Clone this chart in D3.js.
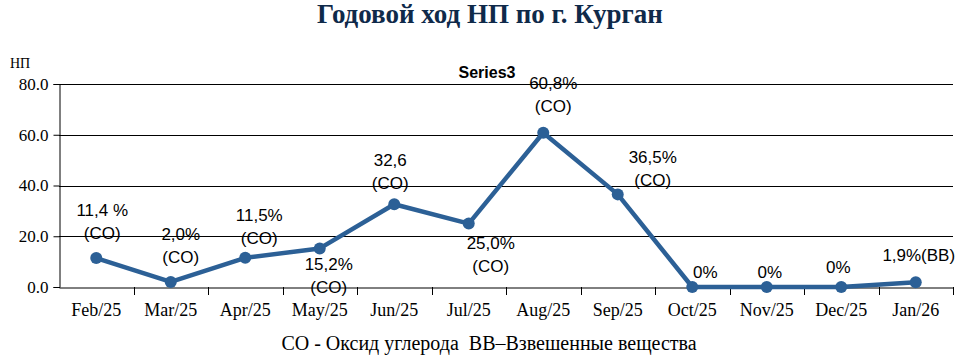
<!DOCTYPE html>
<html><head><meta charset="utf-8">
<script src="https://cdn.jsdelivr.net/npm/d3@7"></script>
<style>body{margin:0;background:#fff}svg{display:block}</style>
</head><body>
<script>
const categories = ["Feb/25","Mar/25","Apr/25","May/25","Jun/25","Jul/25","Aug/25","Sep/25","Oct/25","Nov/25","Dec/25","Jan/26"];
const values = [11.4, 2.0, 11.5, 15.2, 32.6, 25.0, 60.8, 36.5, 0, 0, 0, 1.9];
const labelLine1 = ["11,4 %","2,0%","11,5%","15,2%","32,6","25,0%","60,8%","36,5%","0%","0%","0%","1,9%(BB)"];
const labelLine2 = ["(CO)","(CO)","(CO)","(CO)","(CO)","(CO)","(CO)","(CO)","","","",""];
const yTicks = [0, 20, 40, 60, 80];
const title = "Годовой ход НП по г. Курган";
const yLabel = "НП";
const seriesName = "Series3";
const footnote = "CO - Оксид углерода\u00A0\u00A0ВВ–Взвешенные вещества";
// label layout offsets (px) relative to point: dx, dy of first line
const labelDx = [6, 10, 14, 9, -4, 22, 10, 35, 13, 3, -3, 3];
const labelDy = [-48, -48, -43, 16, -44, 19, -50, -37, -15, -15, -20, -27];

const W = 964, H = 357;
const m = {left: 59, right: 953, top: 84, bottom: 287};
const svg = d3.select("body").append("svg").attr("width", W).attr("height", H);
const x = d3.scaleBand().domain(categories).range([m.left, m.right]).paddingInner(0).paddingOuter(0);
const y = d3.scaleLinear().domain([0, 80]).range([m.bottom, m.top]);
const serif = "'Liberation Serif','Times New Roman',serif";
const sans = "'Liberation Sans',Arial,sans-serif";
const color = "#2C6096";

// gridlines
svg.append("g").selectAll("line").data(yTicks.filter(d => d > 0)).join("line")
  .attr("x1", m.left).attr("x2", m.right)
  .attr("y1", d => Math.round(y(d)) + 0.5).attr("y2", d => Math.round(y(d)) + 0.5)
  .attr("stroke", "#000").attr("stroke-width", 1);

// y axis
const ya = svg.append("g").attr("transform", `translate(${m.left + 0.5},0)`)
  .call(d3.axisLeft(y).tickValues(yTicks).tickFormat(d3.format(".1f")).tickSizeOuter(0).tickSize(6).tickPadding(5));
ya.attr("font-family", serif).attr("font-size", 17);
ya.select(".domain").attr("stroke", "#000");
ya.selectAll("text").attr("fill", "#000");

// x axis
const xa = svg.append("g").attr("transform", `translate(0,${m.bottom + 0.5})`)
  .call(d3.axisBottom(x).tickSize(0).tickPadding(16));
xa.attr("font-family", serif).attr("font-size", 18);
xa.select(".domain").attr("stroke", "#000");
xa.selectAll("text").attr("fill", "#000");
const bounds = categories.map(c => x(c)).concat([x(categories[categories.length - 1]) + x.bandwidth()]);
svg.append("g").selectAll("line").data(bounds.slice(1)).join("line")
  .attr("x1", d => Math.round(d) + 0.5).attr("x2", d => Math.round(d) + 0.5)
  .attr("y1", m.bottom).attr("y2", m.bottom + 8).attr("stroke", "#000");

// line
const cx = (d, i) => x(categories[i]) + x.bandwidth() / 2;
svg.append("path").datum(values)
  .attr("d", d3.line().x(cx).y(d => y(d)))
  .attr("fill", "none").attr("stroke", color).attr("stroke-width", 4.5).attr("stroke-linejoin", "round");
svg.append("g").selectAll("circle").data(values).join("circle")
  .attr("cx", cx).attr("cy", d => y(d)).attr("r", 6).attr("fill", color);

// labels
const lg = svg.append("g").attr("font-family", sans).attr("font-size", 17).attr("fill", "#000").attr("text-anchor", "middle");
values.forEach((v, i) => {
  const px = cx(v, i) + labelDx[i], py = y(v) + labelDy[i];
  lg.append("text").attr("x", px).attr("y", py).attr("dy", "0.35em").text(labelLine1[i]);
  if (labelLine2[i]) lg.append("text").attr("x", px).attr("y", py + 23).attr("dy", "0.35em").text(labelLine2[i]);
});

// texts
svg.append("text").attr("x", 490).attr("y", 23).attr("text-anchor", "middle")
  .attr("font-family", serif).attr("font-weight", "bold").attr("font-size", 27).attr("fill", "#0F2A4A").text(title);
svg.append("text").attr("x", 10).attr("y", 68).attr("font-family", serif).attr("font-size", 14).attr("fill", "#000").text(yLabel);
svg.append("text").attr("x", 487).attr("y", 78).attr("text-anchor", "middle")
  .attr("font-family", sans).attr("font-weight", "bold").attr("font-size", 16).attr("fill", "#000").text(seriesName);
svg.append("text").attr("x", 489).attr("y", 350).attr("text-anchor", "middle")
  .attr("font-family", serif).attr("font-size", 20).attr("fill", "#000").text(footnote);
</script>
</body></html>
